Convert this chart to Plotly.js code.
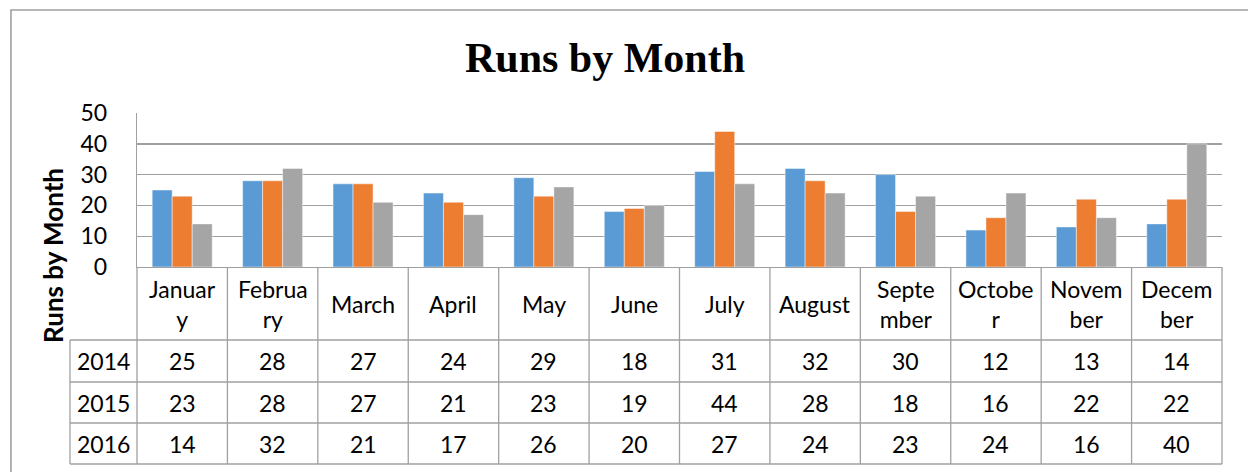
<!DOCTYPE html>
<html>
<head>
<meta charset="utf-8">
<script src="https://cdn.plot.ly/plotly-3.0.1.min.js"></script>
<style>html,body{margin:0;padding:0;background:#fff;}#chart{width:1248px;height:472px;}</style>
</head>
<body>
<div id="chart"></div>
<script>
// ---- data ----
const months = ['January','February','March','April','May','June','July','August','September','October','November','December'];
const monthLabels = ['Januar<br>y','Februa<br>ry','March','April','May','June','July','August','Septe<br>mber','Octobe<br>r','Novem<br>ber','Decem<br>ber'];
const years = ['2014','2015','2016'];
const v2014 = [25,28,27,24,29,18,31,32,30,12,13,14];
const v2015 = [23,28,27,21,23,19,44,28,18,16,22,22];
const v2016 = [14,32,21,17,26,20,27,24,23,24,16,40];
const seriesValues = [v2014, v2015, v2016];
const colors = ['#5B9BD5','#ED7D31','#A5A5A5'];

// ---- layout geometry (pixels) ----
const W = 1248, H = 472;
const L = 137, R = 1221.7, T = 113, B = 267;
const px = p => (p - L) / (R - L);
const py = p => (B - p) / (B - T);
const rowLines = [340, 382, 423, 464];
const labelLeft = 70;
const lineColor = '#A0A0A0';
const fontFam = 'Lato, "Open Sans", sans-serif';
const fs = 23;

const traces = years.map((y, i) => ({
  type: 'bar',
  name: y,
  x: months,
  y: seriesValues[i],
  marker: {color: colors[i], line: {color: 'rgba(255,255,255,0.45)', width: 1}},
  hoverinfo: 'x+y+name'
}));

const shapes = [];
// outer chart border
shapes.push({type:'rect', xref:'paper', yref:'paper', x0:px(11), y0:py(10), x1:px(1320), y1:py(560),
  line:{color:lineColor, width:1.6}, layer:'below'});
// table horizontal lines
rowLines.forEach(r => shapes.push({type:'line', xref:'paper', yref:'paper', x0:px(labelLeft), x1:px(R), y0:py(r), y1:py(r), line:{color:lineColor, width:1.3}}));
// table vertical lines
const colW = (R - L) / months.length;
for (let i = 0; i <= months.length; i++) {
  const xp = L + i * colW;
  shapes.push({type:'line', xref:'paper', yref:'paper', x0:px(xp), x1:px(xp), y0:py(B), y1:py(rowLines[3]), line:{color:lineColor, width:1.3}});
}
shapes.push({type:'line', xref:'paper', yref:'paper', x0:px(labelLeft), x1:px(labelLeft), y0:py(rowLines[0]), y1:py(rowLines[3]), line:{color:lineColor, width:1.3}});

const annotations = [];
const headerMid = (B + rowLines[0]) / 2;
months.forEach((m, i) => {
  annotations.push({xref:'x', yref:'paper', x:m, y:py(headerMid), text:monthLabels[i], showarrow:false,
    xanchor:'center', yanchor:'middle', font:{family:fontFam, size:fs, color:'#000'}});
});
years.forEach((yr, r) => {
  const mid = (rowLines[r] + rowLines[r+1]) / 2;
  annotations.push({xref:'paper', yref:'paper', x:px((labelLeft + L) / 2), y:py(mid), text:yr, showarrow:false,
    xanchor:'center', yanchor:'middle', font:{family:fontFam, size:fs, color:'#000'}});
  months.forEach((m, i) => {
    annotations.push({xref:'x', yref:'paper', x:m, y:py(mid), text:String(seriesValues[r][i]), showarrow:false,
      xanchor:'center', yanchor:'middle', font:{family:fontFam, size:fs, color:'#000'}});
  });
});
// y axis title
annotations.push({xref:'paper', yref:'paper', x:px(53), y:py(255), text:'<b>Runs by Month</b>', textangle:-90,
  showarrow:false, xanchor:'center', yanchor:'middle', font:{family:fontFam, size:26, color:'#000'}});

const layout = {
  width: W, height: H,
  margin: {l: L, r: W - R, t: T, b: H - B, pad: 0},
  paper_bgcolor: '#fff', plot_bgcolor: '#fff',
  showlegend: false,
  barmode: 'group', bargap: 0.336, bargroupgap: 0,
  title: {text: '<b>Runs by Month</b>', font: {family: '"Liberation Serif", "Times New Roman", serif', size: 42, color: '#000'},
    xref: 'container', yref: 'container', x: 605 / W, xanchor: 'center', y: 1 - 57 / H, yanchor: 'middle'},
  xaxis: {type: 'category', showticklabels: false, ticks: '', showgrid: false, zeroline: false,
    showline: true, linecolor: lineColor, linewidth: 1.3, range: [-0.5, 11.5], fixedrange: true},
  yaxis: {range: [0, 50], dtick: 10, showgrid: true, gridcolor: lineColor, gridwidth: 1.4, zeroline: false,
    showline: true, linecolor: lineColor, linewidth: 1.3, ticks: '', ticklabelstandoff: 24,
    tickfont: {family: fontFam, size: fs, color: '#000'}, fixedrange: true},
  shapes: shapes,
  annotations: annotations
};

Plotly.newPlot('chart', traces, layout, {displayModeBar: false, staticPlot: true});
</script>
</body>
</html>
